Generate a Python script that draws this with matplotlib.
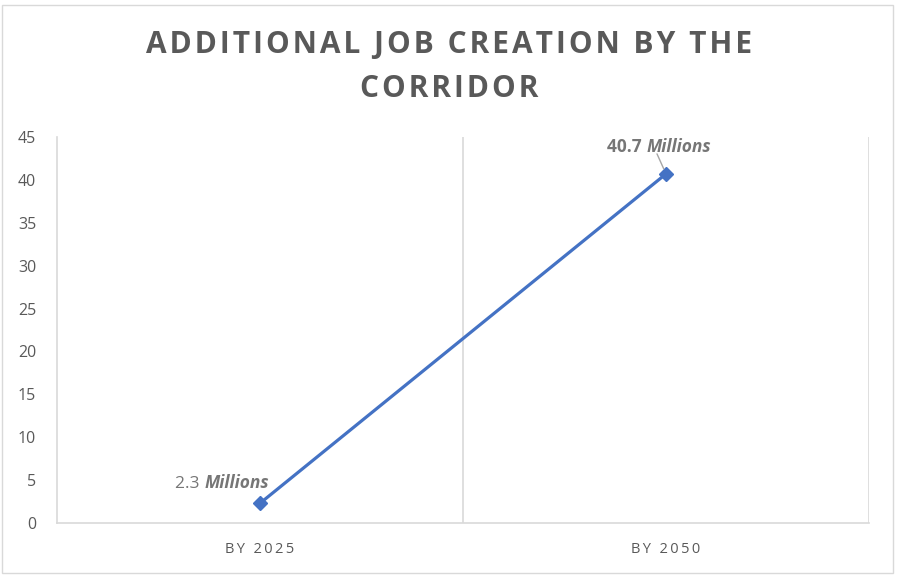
import matplotlib
matplotlib.use("Agg")
import matplotlib.pyplot as plt
from matplotlib.patches import Rectangle

categories = ["BY 2025", "BY 2050"]
values = [2.3, 40.7]
value_labels = ["2.3", "40.7"]
unit_label = "Millions"
yticks = list(range(0, 50, 5))
title = "ADDITIONAL JOB CREATION BY THE\nCORRIDOR"

plt.rcParams['font.family'] = ['Open Sans', 'DejaVu Sans']

def spaced(s, sep="\u200a"):
    return "\n".join(sep.join(ch for ch in line) for line in s.split("\n"))

W, H = 899, 577
fig = plt.figure(figsize=(W / 100, H / 100), dpi=100)
fig.patch.set_facecolor("white")
fig.add_artist(Rectangle((1.5 / W, 4.5 / H), 891 / W, 568 / H, transform=fig.transFigure,
                         fill=False, edgecolor="#d9d9d9", linewidth=1.0))

left, right, top, bottom = 57, 869, 137, 523
ax = fig.add_axes([left / W, 1 - bottom / H, (right - left) / W, (bottom - top) / H])

x = list(range(len(categories)))
ax.plot(x, values, color="#4472C4", linewidth=2.3, marker="D", markersize=7,
        markeredgecolor="#4472C4", markerfacecolor="#4472C4", zorder=3)

ax.set_xlim(-0.5, len(categories) - 0.5)
ax.set_ylim(0, 45)
ax.set_yticks(yticks)
ax.set_yticklabels([str(v) for v in yticks], color="#595959", fontsize=11.5)
ax.set_xticks(x)
ax.set_xticklabels([spaced(c, "\u2009") for c in categories], color="#595959", fontsize=10.5)
ax.tick_params(axis="both", length=0)
ax.tick_params(axis="y", pad=15)
ax.tick_params(axis="x", pad=14)

for s in ["top", "right"]:
    ax.spines[s].set_visible(False)
for s in ["left", "bottom"]:
    ax.spines[s].set_color("#d9d9d9")
    ax.spines[s].set_linewidth(1.2)
for b in [0.5, 1.5]:
    ax.axvline(b, color="#d9d9d9", linewidth=1.2, zorder=1)

# data labels
lbl_color = "#767676"
m1 = ax.annotate(unit_label, xy=(x[0], values[0]), xytext=(9, 11),
                 textcoords="offset pixels", ha="right", va="bottom",
                 color=lbl_color, fontsize=12.5, fontweight="bold", fontstyle="italic")
ax.annotate(value_labels[0] + " ", xy=(0, 0), xycoords=m1, ha="right", va="bottom",
            color=lbl_color, fontsize=12.5)

m2 = ax.annotate(unit_label, xy=(x[1], values[1]), xytext=(45, 18),
                 textcoords="offset pixels", ha="right", va="bottom",
                 color=lbl_color, fontsize=12.5, fontweight="bold", fontstyle="italic")
ax.annotate(value_labels[1] + " ", xy=(0, 0), xycoords=m2, ha="right", va="bottom",
            color=lbl_color, fontsize=12.5, fontweight="bold")
ax.annotate("", xy=(x[1], values[1]), xytext=(-9, 20), textcoords="offset pixels",
            arrowprops=dict(arrowstyle="-", color="#a6a6a6", linewidth=1.0, shrinkA=0, shrinkB=4))

fig.text(0.5, 1 - 67 / H, spaced(title), ha="center", va="center", fontsize=21.5,
         fontweight="bold", color="#595959", linespacing=1.58)

fig.savefig("out.png", dpi=100)
